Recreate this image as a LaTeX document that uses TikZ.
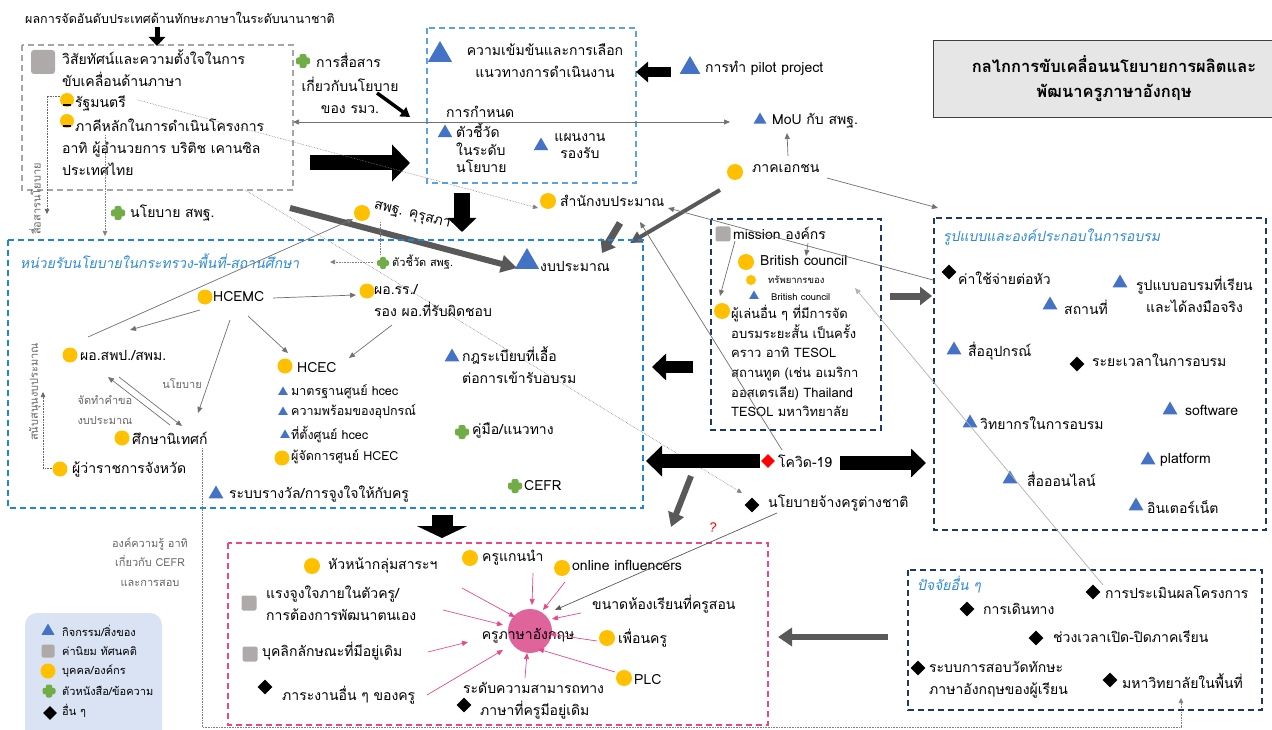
\documentclass[tikz,border=0pt]{standalone}
\usepackage{fontspec}
\newfontfamily\thai[Script=Thai]{Loma}
\newfontfamily\thaiit[Script=Thai,FakeSlant=0.2]{Loma}
\usetikzlibrary{arrows.meta,shapes.geometric,calc}
\definecolor{triblue}{HTML}{4472C4}
\definecolor{dotorange}{HTML}{FFC000}
\definecolor{plusgreen}{HTML}{70AD47}
\definecolor{sqgray}{HTML}{AEAAAA}
\definecolor{bblue}{HTML}{1F86D6}
\definecolor{lblue}{HTML}{5BA3E0}
\definecolor{navy}{HTML}{1F3864}
\definecolor{pinkc}{HTML}{E8488A}
\definecolor{pinkfill}{HTML}{E0649C}
\definecolor{legendbg}{HTML}{DAE3F3}
\definecolor{titlebg}{HTML}{E7E6E6}
\definecolor{darkg}{HTML}{595959}
\definecolor{lineg}{HTML}{707070}
\definecolor{titleblue}{HTML}{2E8AD6}
\begin{document}
\begin{tikzpicture}[x=1pt,y=-1pt,
 base/.style={inner sep=0pt, anchor=west, align=left},
 txt/.style={base, font=\thai\fontsize{14}{22}\selectfont},
 txtm/.style={base, font=\thai\fontsize{12.5}{21}\selectfont},
 txts/.style={base, font=\thai\fontsize{11}{19.5}\selectfont},
 txtxs/.style={base, font=\thai\fontsize{9.5}{12}\selectfont},
 txtg/.style={txts, text=gray!80!black},
 txti/.style={base, font=\thaiit\fontsize{14}{20}\selectfont, text=titleblue},
 btri/.style={regular polygon, regular polygon sides=3, fill=triblue, inner sep=0pt, minimum size=#1},
 btri/.default=17,
 odot/.style={circle, fill=dotorange, inner sep=0pt, minimum size=#1},
 odot/.default=15,
 gsq/.style={rectangle, rounded corners=2pt, fill=sqgray, inner sep=0pt, minimum size=#1},
 gsq/.default=14,
 bdia/.style={diamond, fill=black, inner sep=0pt, minimum width=#1, minimum height=#1},
 bdia/.default=15,
 pics/gplus/.style={code={
   \fill[plusgreen,rounded corners=2pt] (-#1,-0.5*#1) rectangle (#1,0.5*#1);
   \fill[plusgreen,rounded corners=2pt] (-0.5*#1,-#1) rectangle (0.5*#1,#1);}},
 pics/gplus/.default=7,
 conn/.style={draw=lineg, line width=0.7pt, -{Triangle[length=6pt,width=5pt]}},
 dconn/.style={draw=gray, line width=0.6pt, densely dotted, -{Triangle[length=5pt,width=4.5pt]}},
 parr/.style={draw=pinkc, line width=0.7pt, -{Triangle[length=6pt,width=5pt]}},
 bigblk/.style={draw=black, line width=#1},
 bigdg/.style={draw=darkg, line width=#1},
 dbox/.style={dashed, dash pattern=on 6pt off 4pt, line width=1.3pt}
]
\useasboundingbox (0,0) rectangle (1272,730);
\fill[white] (0,0) rectangle (1272,730);

% ---------- title ----------
\node[draw=black!75, line width=1pt, fill=titlebg, minimum width=340, minimum height=77, anchor=north west, inner sep=0pt] (titlebox) at (933,40) {};
\node[font=\thai\bfseries\fontsize{16.5}{25}\selectfont, align=center, inner sep=0pt] (title) at (1114,79) {กลไกการขับเคลื่อนนโยบายการผลิตและ\\พัฒนาครูภาษาอังกฤษ};

% ---------- top-left ----------
\node[base, font=\thai\fontsize{12.5}{16}\selectfont] (rank) at (25,18) {ผลการจัดอันดับประเทศด้านทักษะภาษาในระดับนานาชาติ};
\coordinate (rankA) at (157,27);
\coordinate (rankB) at (157,46);
\draw[bigblk=5pt, -{Triangle[length=9pt,width=16pt]}] (rankA) -- (rankB);

\draw[gray!70, dbox] (22,45) rectangle (293,190);
\node[gsq=24, rounded corners=3pt] (vsq) at (43,62) {};
\node[txt] (vision) at (62,68) {วิสัยทัศน์และความตั้งใจในการ\\ขับเคลื่อนด้านภาษา};
\node[odot=14] (pmdot) at (67,100) {};
\draw[line width=1.3pt] (63,105) -- (71,105);
\node[txt] (pm) at (75,103) {รัฐมนตรี};
\node[odot=14] (ptdot) at (67,121) {};
\draw[line width=1.3pt] (63,126) -- (71,126);
\node[txt] (partner1) at (75,125) {ภาคีหลักในการดำเนินโครงการ};
\node[txt] (partner2) at (62,159) {อาทิ ผู้อำนวยการ บริติช เคานซิล\\ประเทศไทย};

\pic at (303,61) {gplus};
\node[txt] (comm1) at (316,60) {การสื่อสาร};
\node[txt, anchor=center, align=center] (comm2) at (350,95) {เกี่ยวกับนโยบาย\\ของ รมว.};
\coordinate (commA) at (377,93);
\coordinate (commB) at (410,117);
\draw[bigblk=3.5pt, -{Triangle[length=9pt,width=11pt]}] (commA) -- (commB);

% ---------- top-middle box ----------
\draw[lblue, dbox] (427,28) rectangle (636,183);
\node[btri=28] (t1) at (440,55) {};
\node[txt, anchor=center, align=center] (intens) at (545,61) {ความเข้มข้นและการเลือก\\แนวทางการดำเนินงาน};
\node[txt] (indic1) at (446,112) {การกำหนด};
\node[btri=17] (t2) at (445,133) {};
\node[base, font=\thai\fontsize{14}{17.5}\selectfont] (indic2) at (456,148) {ตัวชี้วัด\\ในระดับ\\นโยบาย};
\node[btri=17] (t3) at (541,146) {};
\node[base, anchor=center, align=center, font=\thai\fontsize{14}{17.5}\selectfont] (plan) at (580,146) {แผนงาน\\รองรับ};

\coordinate (pilA) at (671,72);
\coordinate (pilB) at (636,72);
\draw[bigblk=10pt, -{Triangle[length=12pt,width=20pt]}] (pilA) -- (pilB);
\node[btri=24] (t4) at (690,68) {};
\node[txt] (pilot) at (705,68) {การทำ pilot project};

\node[btri=15] (t5) at (760,120) {};
\node[txt] (mou) at (772,121) {MoU กับ สพฐ.};
\node[odot=16] (pvdot) at (735,172) {};
\node[txt] (private) at (752,168) {ภาคเอกชน};

\coordinate (gbR) at (293,122);
\coordinate (mouL) at (730,122);
\draw[conn, {Triangle[length=6pt,width=5pt]}-{Triangle[length=6pt,width=5pt]}] (gbR) -- (mouL);
\coordinate (pvUp) at (788,156);
\coordinate (mouB) at (787,133);
\draw[conn] (pvUp) -- (mouB);
\coordinate (pvR) at (827,178);
\coordinate (formTL) at (938,208);
\draw[conn] (pvR) -- (formTL);

\coordinate (bigA) at (310,163);
\coordinate (bigB) at (410,163);
\draw[bigblk=15pt, -{Triangle[length=18pt,width=36pt]}] (bigA) -- (bigB);

\coordinate (downA) at (462,193);
\coordinate (downB) at (462,232);
\draw[bigblk=16pt, -{Triangle[length=14pt,width=28pt]}] (downA) -- (downB);

% ---------- obec / budget office ----------
\node[odot=16] (obecdot) at (362,213) {};
\node[txt, rotate=-14, anchor=west] (obec) at (374,206) {สพฐ. คุรุสภา};
\node[odot=16] (bbdot) at (548,201) {};
\node[txt] (bb) at (560,201) {สำนักงบประมาณ};

\coordinate (obA) at (290,208);
\coordinate (obB) at (517,268);
\draw[bigdg=6pt, -{Triangle[length=16pt,width=17pt]}] (obA) -- (obB);
\coordinate (bgA) at (620,223);
\coordinate (bgB) at (602,253);
\draw[bigdg=7pt, -{Triangle[length=12pt,width=17pt]}] (bgA) -- (bgB);
\coordinate (pvA) at (720,190);
\coordinate (pvB) at (630,243);
\draw[bigdg=4pt, -{Triangle[length=12pt,width=12pt]}] (pvA) -- (pvB);

% dotted lines from gray box
\coordinate (pmR) at (138,100);
\coordinate (bbL) at (538,208);
\draw[dconn] (pmR) -- (bbL);
\coordinate (gbB) at (245,190);
\coordinate (forB) at (742,493);
\draw[dconn] (gbB) -- (forB);
\coordinate (pmL) at (60,96);
\coordinate (leftD) at (47,214);
\draw[dconn, draw=gray!80!black] (pmL) -| (leftD);
\coordinate (ptB) at (105,135);
\coordinate (unitTop) at (105,236);
\draw[dconn] (ptB) -- (unitTop);
\node[txtg, rotate=90, anchor=center] (commpol) at (35,199) {สื่อสารนโยบาย};
\pic at (118,213) {gplus};
\node[txt] (obecpol) at (130,213) {นโยบาย สพฐ.};

% ---------- big blue box ----------
\draw[bblue, dbox] (8,240) rectangle (643,508);
\node[txti] (unitt) at (20,261) {หน่วยรับนโยบายในกระทรวง-พื้นที่-สถานศึกษา};

\coordinate (obecD) at (380,222);
\coordinate (kpiU) at (380,255);
\draw[gray, line width=0.6pt, densely dotted] (obecD) -- (kpiU);
\pic at (383,263) {gplus=6};
\node[txts] (kpi) at (392,262) {ตัวชี้วัด สพฐ.};
\coordinate (kpiL) at (373,262);
\coordinate (unittR) at (330,262);
\draw[dconn] (kpiL) -- (unittR);

\node[btri=28] (t6) at (527,262) {};
\node[txt] (budget) at (540,266) {งบประมาณ};

\node[odot] (hcemcdot) at (205,297) {};
\node[txt] (hcemc) at (213,297) {HCEMC};
\node[odot] (dirdot) at (367,291) {};
\node[txt] (dir) at (374,301) {ผอ.รร./\\รอง ผอ.ที่รับผิดชอบ};
\node[odot] (esadot) at (70,355) {};
\node[txt] (esa) at (80,355) {ผอ.สพป./สพม.};
\node[odot] (hcecdot) at (285,366) {};
\node[txt] (hcec) at (297,368) {HCEC};
\node[btri=11] (t7) at (283,392) {};
\node[txtm] (std) at (291,392) {มาตรฐานศูนย์ hcec};
\node[btri=11] (t8) at (283,412) {};
\node[txtm] (ready) at (291,412) {ความพร้อมของอุปกรณ์};
\node[btri=11] (t9) at (285,435) {};
\node[txtm] (loc) at (291,435) {ที่ตั้งศูนย์ hcec};
\node[odot=15] (mgrdot) at (282,458) {};
\node[txtm] (mgr) at (291,457) {ผู้จัดการศูนย์ HCEC};
\node[odot] (supdot) at (122,438) {};
\node[txt] (sup) at (132,438) {ศึกษานิเทศก์};
\node[odot] (govdot) at (60,469) {};
\node[txt] (gov) at (72,469) {ผู้ว่าราชการจังหวัด};
\node[txtg, anchor=center] (pollbl) at (182,384) {นโยบาย};
\node[txtg, anchor=center, align=center] (reqlbl) at (105,410) {จัดทำคำขอ\\งบประมาณ};
\node[txtg, rotate=90, anchor=center] (fundlbl) at (35,392) {สนับสนุนงบประมาณ};
\node[btri=17] (t10) at (216,494) {};
\node[txt] (reward) at (229,494) {ระบบรางวัล/การจูงใจให้กับครู};
\node[btri=17] (t11) at (452,357) {};
\node[txt] (rule) at (462,365) {กฎระเบียบที่เอื้อ\\ต่อการเข้ารับอบรม};
\pic at (462,432) {gplus};
\node[txt] (manual) at (472,430) {คู่มือ/แนวทาง};
\pic at (515,486) {gplus};
\node[txt] (cefr) at (524,486) {CEFR};

% connectors inside
\coordinate (hcemcR) at (273,298);
\coordinate (dirL) at (356,295);
\draw[conn] (hcemcR) -- (dirL);
\coordinate (hcemcBL) at (200,310);
\coordinate (esaTR) at (130,330);
\draw[conn] (hcemcBL) -- (esaTR);
\coordinate (hcemcB) at (248,316);
\coordinate (hcecT) at (288,353);
\draw[conn] (hcemcB) -- (hcecT);
\coordinate (dirB) at (392,325);
\coordinate (hcecR) at (349,358);
\draw[conn] (dirB) -- (hcecR);
\coordinate (hcemcB2) at (230,320);
\coordinate (supT) at (198,413);
\draw[conn] (hcemcB2) -- (supT);
\coordinate (esaT) at (88,337);
\coordinate (obecL) at (353,219);
\draw[conn] (esaT) -- (obecL);
\coordinate (supTL) at (170,425);
\coordinate (esaB) at (108,377);
\draw[conn] (supTL) -- (esaB);
\coordinate (esaB2) at (119,377);
\coordinate (supTL2) at (182,426);
\draw[conn] (esaB2) -- (supTL2);
\coordinate (govL) at (52,468);
\coordinate (fundUp) at (43,392);
\draw[dconn, draw=gray!80!black] (govL) -| (fundUp);

\coordinate (supB) at (202,448);
\coordinate (botR) at (1181,727);
\coordinate (uniB) at (1181,698);
\draw[gray, line width=0.6pt, densely dotted] (supB) |- (botR);
\draw[dconn] (botR) -- (uniB);
\node[txtg, anchor=center, align=center] (know) at (150,562) {องค์ความรู้ อาทิ\\เกี่ยวกับ CEFR\\และการสอบ};

% ---------- mission box ----------
\draw[navy, dbox] (711,219) rectangle (881,430);
\node[gsq=15] (msq) at (723,234) {};
\node[txt] (mission) at (733,233) {mission องค์กร};
\node[odot=16] (bcdot) at (746,262) {};
\node[txt] (bc) at (760,261) {British council};
\node[odot=10] (resdot) at (751,280) {};
\node[txtxs] (res) at (768,280) {ทรัพยากรของ};
\node[btri=11] (t12) at (754,296) {};
\node[txtxs] (res2) at (771,297) {British council};
\node[odot=16] (othdot) at (722,311) {};
\node[base, font=\thai\fontsize{13}{19.6}\selectfont] (other) at (731,361) {ผู้เล่นอื่น ๆ ที่มีการจัด\\อบรมระยะสั้น เป็นครั้ง\\คราว อาทิ TESOL\\สถานทูต (เช่น อเมริกา\\ออสเตรเลีย) Thailand\\TESOL มหาวิทยาลัย};
\coordinate (misB) at (735,241);
\coordinate (othT) at (720,296);
\draw[conn] (misB) -- (othT);
\coordinate (misB2) at (808,243);
\coordinate (bcT) at (806,256);
\draw[conn] (misB2) -- (bcT);

\coordinate (misA) at (693,367);
\coordinate (misL) at (652,367);
\draw[bigblk=12pt, -{Triangle[length=14pt,width=26pt]}] (misA) -- (misL);

% ---------- covid ----------
\node[diamond, fill=red, inner sep=0pt, minimum width=14, minimum height=14] (covdot) at (768,461) {};
\node[txt] (covid) at (778,461) {โควิด-19};
\node[bdia] (fordot) at (752,505) {};
\node[txt] (foreign) at (768,503) {นโยบายจ้างครูต่างชาติ};
\node[font=\thai\fontsize{13}{15}\selectfont, text=red, rotate=-10, inner sep=0pt] (qm) at (713,527) {?};

\coordinate (covL) at (760,461);
\coordinate (unitR) at (646,461);
\draw[bigblk=14pt, -{Triangle[length=16pt,width=30pt]}] (covL) -- (unitR);
\coordinate (covR) at (840,463);
\coordinate (formL) at (926,463);
\draw[bigblk=14pt, -{Triangle[length=15pt,width=28pt]}] (covR) -- (formL);
\coordinate (covD) at (691,476);
\coordinate (pinkT) at (671,527);
\draw[bigdg=6pt, -{Triangle[length=14pt,width=16pt]}] (covD) -- (pinkT);
\coordinate (covT) at (782,450);
\coordinate (bbB) at (640,222);
\draw[conn] (covT) -- (bbB);

% ---------- form box ----------
\coordinate (mR) at (890,296);
\coordinate (formL2) at (932,296);
\draw[bigdg=7pt, -{Triangle[length=12pt,width=18pt]}] (mR) -- (formL2);
\draw[navy, dbox] (934,218) rectangle (1266,530);
\node[txti] (formt) at (943,237) {รูปแบบและองค์ประกอบในการอบรม};
\node[bdia] (d1) at (949,272) {};
\node[txt] (cost) at (958,278) {ค่าใช้จ่ายต่อหัว};
\node[btri] (t13) at (1050,305) {};
\node[txt] (venue) at (1064,307) {สถานที่};
\node[btri] (t14) at (1120,283) {};
\node[txt, align=center] (style) at (1136,294) {รูปแบบอบรมที่เรียน\\และได้ลงมือจริง};
\node[btri] (t15) at (954,350) {};
\node[txt] (media) at (968,351) {สื่ออุปกรณ์};
\node[bdia] (d2) at (1077,364) {};
\node[txt] (dur) at (1092,360) {ระยะเวลาในการอบรม};
\node[btri] (t16) at (970,423) {};
\node[txt] (trainer) at (980,423) {วิทยากรในการอบรม};
\node[btri] (t17) at (1170,410) {};
\node[txt] (soft) at (1185,410) {software};
\node[btri] (t18) at (1148,460) {};
\node[txt] (plat) at (1160,460) {platform};
\node[btri] (t19) at (1010,479) {};
\node[txt] (online) at (1027,479) {สื่อออนไลน์};
\node[btri] (t20) at (1136,506) {};
\node[txt] (inet) at (1147,507) {อินเตอร์เน็ต};

\coordinate (costL) at (933,280);
\coordinate (bbR) at (668,208);
\draw[conn] (costL) -- (bbR);

% ---------- other factors box ----------
\draw[navy, dbox] (908,570) rectangle (1262,710);
\node[txti] (othert) at (917,585) {ปัจจัยอื่น ๆ};
\node[bdia] (d3) at (1093,592) {};
\node[txt] (eval) at (1105,592) {การประเมินผลโครงการ};
\node[bdia] (d4) at (967,609) {};
\node[txt] (travel) at (983,609) {การเดินทาง};
\node[bdia] (d5) at (1036,638) {};
\node[txt] (term) at (1053,637) {ช่วงเวลาเปิด-ปิดภาคเรียน};
\node[bdia] (d6) at (918,668) {};
\node[txt] (exam) at (929,680) {ระบบการสอบวัดทักษะ\\ภาษาอังกฤษของผู้เรียน};
\node[bdia] (d7) at (1110,680) {};
\node[txt] (uni) at (1122,681) {มหาวิทยาลัยในพื้นที่};

\coordinate (evalT) at (1103,585);
\coordinate (bcR) at (855,288);
\draw[conn, draw=gray!60] (evalT) -- (bcR);

\coordinate (ofL) at (888,637);
\coordinate (pinkR) at (778,637);
\draw[bigdg=6pt, -{Triangle[length=14pt,width=18pt]}] (ofL) -- (pinkR);

% ---------- pink box ----------
\draw[pinkc, dbox] (228,543) rectangle (768,725);
\node[circle, fill=pinkfill, minimum size=44, inner sep=0pt] (teacher) at (530,631) {};
\node[txt, anchor=center] (teacherlbl) at (528,636) {ครูภาษาอังกฤษ};
\node[odot=16] (hoddot) at (312,566) {};
\node[txt] (hod) at (328,565) {หัวหน้ากลุ่มสาระฯ};
\node[odot=16] (leaddot) at (470,558) {};
\node[txt] (lead) at (482,558) {ครูแกนนำ};
\node[odot=16] (infdot) at (562,568) {};
\node[txt] (infl) at (572,565) {online influencers};
\node[gsq=15] (s2) at (249,603) {};
\node[txt] (motiv) at (266,603) {แรงจูงใจภายในตัวครู/\\การต้องการพัฒนาตนเอง};
\node[gsq=15] (s3) at (250,654) {};
\node[txt] (person) at (262,651) {บุคลิกลักษณะที่มีอยู่เดิม};
\node[bdia] (d8) at (265,687) {};
\node[txt] (work) at (282,695) {ภาระงานอื่น ๆ ของครู};
\node[bdia] (d9) at (464,705) {};
\node[txt] (prof1) at (463,688) {ระดับความสามารถทาง};
\node[txt] (prof2) at (480,710) {ภาษาที่ครูมีอยู่เดิม};
\node[txt] (size) at (592,604) {ขนาดห้องเรียนที่ครูสอน};
\node[odot=16] (peerdot) at (607,638) {};
\node[txt] (peer) at (618,638) {เพื่อนครู};
\node[odot=16] (plcdot) at (624,678) {};
\node[txt] (plc) at (634,680) {PLC};

\coordinate (hodS) at (462,588);
\coordinate (motS) at (443,610);
\coordinate (perS) at (428,652);
\coordinate (workS) at (427,695);
\coordinate (profS) at (525,678);
\coordinate (plcS) at (615,672);
\coordinate (peerS) at (597,641);
\coordinate (sizeS) at (581,613);
\coordinate (infS) at (565,582);
\coordinate (leadS) at (533,573);
\draw[parr] (hodS) -- ($(teacher)+(-15,-14)$);
\draw[parr] (motS) -- ($(teacher)+(-27,-6)$);
\draw[parr] (perS) -- ($(teacher)+(-62,11)$);
\draw[parr] (workS) -- ($(teacher)+(-27,19)$);
\draw[parr] (profS) -- ($(teacher)+(-3,22)$);
\draw[parr] (plcS) -- ($(teacher)+(8,18)$);
\draw[parr] (peerS) -- ($(teacher)+(20,3)$);
\draw[parr] (sizeS) -- ($(teacher)+(22,-12)$);
\draw[parr] (infS) -- ($(teacher)+(13,-21)$);
\draw[parr] (leadS) -- ($(teacher)+(2,-26)$);
\coordinate (forBL) at (777,513);
\draw[conn, draw=darkg] (forBL) -- ($(teacher)+(25,-21)$);

\coordinate (blkA) at (442,515);
\coordinate (blkB) at (442,538);
\draw[bigblk=21pt, -{Triangle[length=12pt,width=50pt]}] (blkA) -- (blkB);

% ---------- legend ----------
\fill[legendbg, rounded corners=12pt] (25,613) rectangle (162,750);
\node[btri=15] (lt) at (48,631) {};
\node[txts] (l1) at (62,631) {กิจกรรม/สิ่งของ};
\node[gsq=13] (ls) at (48,651) {};
\node[txts] (l2) at (62,651) {ค่านิยม ทัศนคติ};
\node[odot=15] (ld) at (48,671) {};
\node[txts] (l3) at (62,671) {บุคคล/องค์กร};
\pic at (49,691) {gplus=6.5};
\node[txts] (l4) at (62,691) {ตัวหนังสือ/ข้อความ};
\node[bdia=14] (ldia) at (50,713) {};
\node[txts] (l5) at (62,711) {อื่น ๆ};
\end{tikzpicture}
\end{document}
